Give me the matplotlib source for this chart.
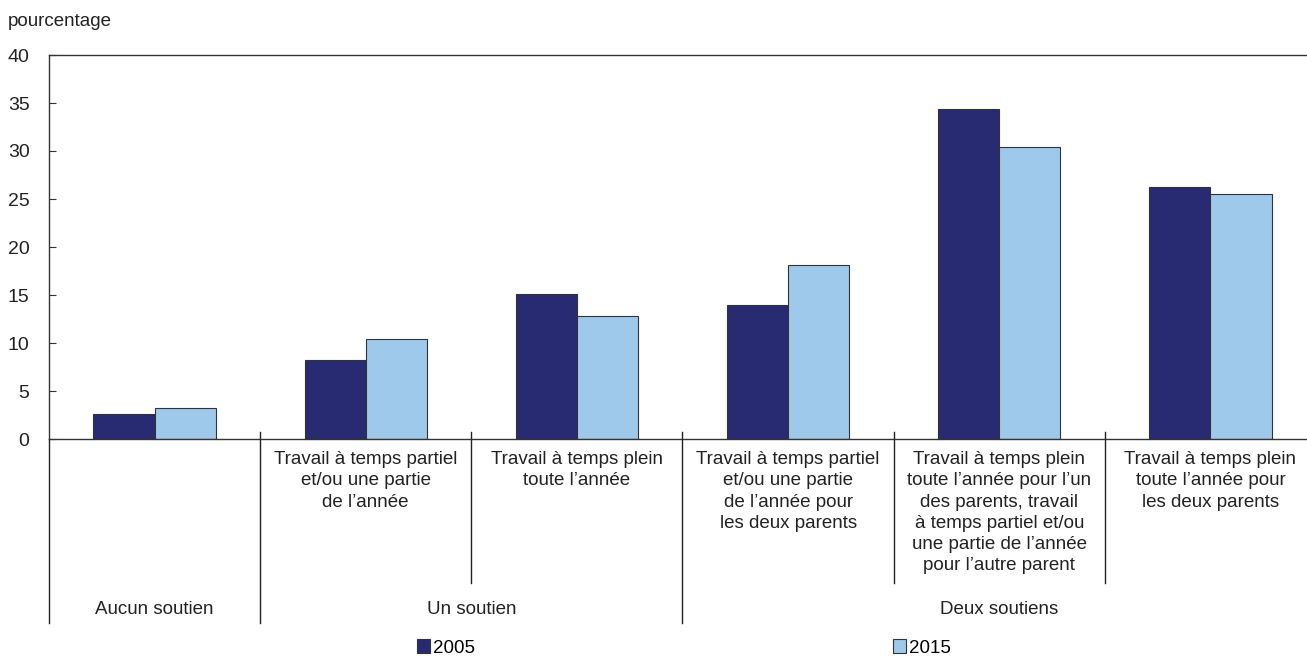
import numpy as np
import matplotlib
matplotlib.use('Agg')
import matplotlib.pyplot as plt
from matplotlib.patches import Patch

plt.rcParams['font.family'] = ['Liberation Sans', 'DejaVu Sans']

# data
sous_categories = ['',
                   'Travail à temps partiel\net/ou une partie\nde l\u2019année',
                   'Travail à temps plein\ntoute l\u2019année',
                   'Travail à temps partiel\net/ou une partie\nde l\u2019année pour\nles deux parents',
                   'Travail à temps plein\ntoute l\u2019année pour l\u2019un\ndes parents, travail\nà temps partiel et/ou\nune partie de l\u2019année\npour l\u2019autre parent',
                   'Travail à temps plein\ntoute l\u2019année pour\nles deux parents']
groupes = ['Aucun soutien', 'Un soutien', 'Deux soutiens']
groupe_debut = [0, 1, 3]
groupe_fin = [1, 3, 6]
v2005 = [2.6, 8.2, 15.1, 14.0, 34.4, 26.2]
v2015 = [3.2, 10.4, 12.8, 18.1, 30.4, 25.5]
yticks = [0, 5, 10, 15, 20, 25, 30, 35, 40]

c2005 = '#282a72'
c2015 = '#9fc9ea'
edge = '#333333'

W, H = 1307, 658
fig = plt.figure(figsize=(W/100, H/100), dpi=100)
x0, x1 = 49, 1316
ytop, ybot = 55, 439
ax = fig.add_axes([x0/W, (H-ybot)/H, (x1-x0)/W, (ybot-ytop)/H])

x = np.arange(len(v2005))
bw = 0.29
ax.bar(x - bw/2, v2005, bw, color=c2005, edgecolor=edge, linewidth=0.8, zorder=2)
ax.bar(x + bw/2, v2015, bw, color=c2015, edgecolor=edge, linewidth=0.8, zorder=2)

ax.set_xlim(-0.5, 5.5)
ax.set_ylim(0, 40)
ax.set_yticks(yticks)
ax.tick_params(axis='y', direction='in', length=5, width=0.8, color='#333333',
               labelsize=14, pad=14, labelcolor='#222222')
ax.set_xticks([])
for s in ['left', 'top', 'bottom']:
    ax.spines[s].set_color('#333333')
    ax.spines[s].set_linewidth(1.0)
ax.spines['right'].set_visible(False)

tr = ax.get_xaxis_transform()
px = 1.0/(ybot-ytop)
# separators
for i in range(1, 6):
    bx = i - 0.5
    deep = bx in [g - 0.5 for g in groupe_debut[1:]]
    ylow = -(623-ybot)*px if deep else -(583-ybot)*px
    ax.plot([bx, bx], [7*px, ylow], color='#222222', lw=1.0, clip_on=False, transform=tr)
ax.plot([-0.5, -0.5], [0, -(623-ybot)*px], color='#222222', lw=1.0, clip_on=False, transform=tr)

for i, lab in enumerate(sous_categories):
    ax.text(i, -(451-ybot)*px, lab, transform=tr, ha='center', va='top',
            fontsize=13.5, color='#222222', linespacing=1.33)
for g, d, f in zip(groupes, groupe_debut, groupe_fin):
    ax.text((d + f - 1)/2, -(610-ybot)*px, g, transform=tr, ha='center', va='center',
            fontsize=13.5, color='#222222')

fig.text(8/W, 1-22/H, 'pourcentage', ha='left', va='center', fontsize=13.5, color='#222222')

handles = [Patch(facecolor=c2005, edgecolor=edge, linewidth=0.8),
           Patch(facecolor=c2015, edgecolor=edge, linewidth=0.8)]
fig.legend(handles[:1], ['2005'], loc='center left', bbox_to_anchor=(417/W, 1-648/H),
           frameon=False, fontsize=13.5, handlelength=0.7, handleheight=0.7,
           handletextpad=0.15, borderpad=0, borderaxespad=0)
fig.legend(handles[1:], ['2015'], loc='center left', bbox_to_anchor=(893/W, 1-648/H),
           frameon=False, fontsize=13.5, handlelength=0.7, handleheight=0.7,
           handletextpad=0.15, borderpad=0, borderaxespad=0)

fig.savefig('out.png', dpi=100)
